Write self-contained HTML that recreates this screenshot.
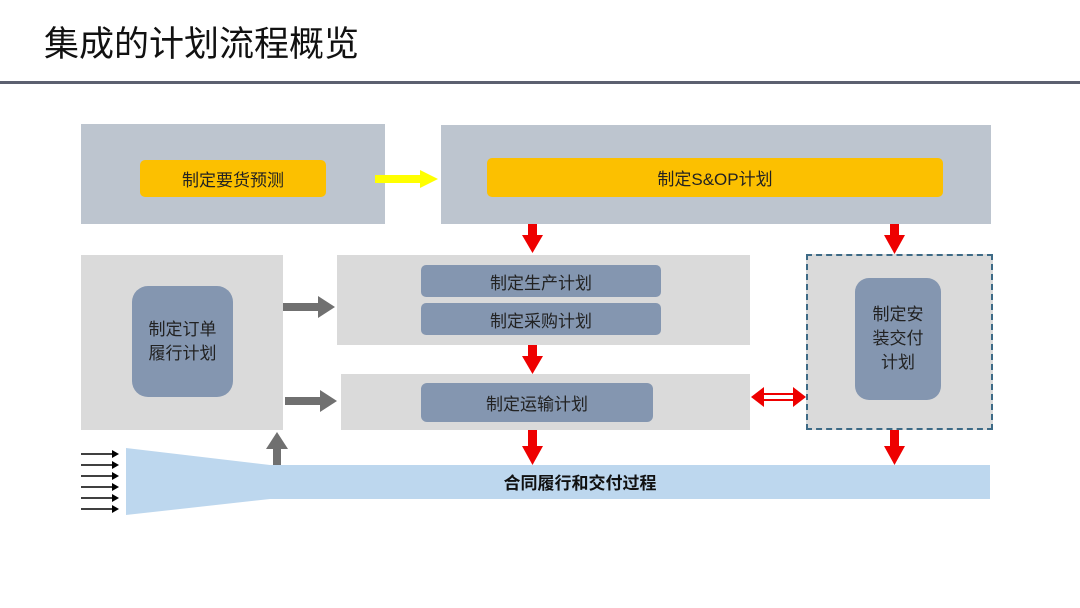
<!DOCTYPE html>
<html><head><meta charset="utf-8"><style>
body{margin:0;width:1080px;height:608px;background:#fff;position:relative;overflow:hidden;font-family:"Liberation Sans","Noto Sans CJK SC",sans-serif}
.a{position:absolute;box-sizing:border-box}
.t{display:flex;align-items:center;justify-content:center;text-align:center;color:#222}
</style></head><body>
<div class="a" style="left:44px;top:22px;font-size:35px;color:#111;line-height:46px">集成的计划流程概览</div>
<div class="a" style="left:0;top:81px;width:1080px;height:3px;background:#5c6070"></div>

<div class="a" style="left:81px;top:124px;width:304px;height:100px;background:#bdc5cf"></div>
<div class="a t" style="left:140px;top:160px;width:186px;height:37px;background:#fcc000;border-radius:5px;font-size:17px">制定要货预测</div>
<div class="a" style="left:441px;top:125px;width:550px;height:99px;background:#bdc5cf"></div>
<div class="a t" style="left:487px;top:158px;width:456px;height:39px;background:#fcc000;border-radius:5px;font-size:17px">制定S&amp;OP计划</div>

<div class="a" style="left:81px;top:255px;width:202px;height:175px;background:#dadada"></div>
<div class="a t" style="left:132px;top:286px;width:101px;height:111px;background:#8496b0;border-radius:16px;font-size:17px;line-height:24px">制定订单<br>履行计划</div>

<div class="a" style="left:337px;top:255px;width:413px;height:90px;background:#dadada"></div>
<div class="a t" style="left:421px;top:265px;width:240px;height:32px;background:#8496b0;border-radius:5px;font-size:17px">制定生产计划</div>
<div class="a t" style="left:421px;top:303px;width:240px;height:32px;background:#8496b0;border-radius:5px;font-size:17px">制定采购计划</div>

<div class="a" style="left:341px;top:374px;width:409px;height:56px;background:#dadada"></div>
<div class="a t" style="left:421px;top:383px;width:232px;height:39px;background:#8496b0;border-radius:6px;font-size:17px">制定运输计划</div>

<div class="a" style="left:806px;top:254px;width:187px;height:176px;background:#dadada;border:2px dashed #3d6a86"></div>
<div class="a t" style="left:855px;top:278px;width:86px;height:122px;background:#8496b0;border-radius:14px;font-size:17px;line-height:24px">制定安<br>装交付<br>计划</div>

<svg class="a" style="left:0;top:0" width="1080" height="608">
<polygon points="126,448 270,465 990,465 990,499 270,499 126,515" fill="#bdd7ee"/>
<text x="580" y="489" font-size="17" font-weight="bold" text-anchor="middle" fill="#111" font-family="Liberation Sans, Noto Sans CJK SC, sans-serif">合同履行和交付过程</text>
<g stroke="#000" stroke-width="1.5">
<line x1="81" y1="454" x2="112" y2="454"/><line x1="81" y1="465" x2="112" y2="465"/><line x1="81" y1="476" x2="112" y2="476"/><line x1="81" y1="487" x2="112" y2="487"/><line x1="81" y1="498" x2="112" y2="498"/><line x1="81" y1="509" x2="112" y2="509"/>
</g>
<g fill="#000">
<polygon points="112,450 119,454 112,458"/><polygon points="112,461 119,465 112,469"/><polygon points="112,472 119,476 112,480"/><polygon points="112,483 119,487 112,491"/><polygon points="112,494 119,498 112,502"/><polygon points="112,505 119,509 112,513"/>
</g>
<polygon points="375,175 420,175 420,170 438,179 420,188 420,183 375,183" fill="#ffff00"/>
<g fill="#707070">
<polygon points="283,303 318,303 318,296 335,307 318,318 318,311 283,311"/>
<polygon points="285,397 320,397 320,390 337,401 320,412 320,405 285,405"/>
<polygon points="273,465 273,449 266,449 277,432 288,449 281,449 281,465"/>
</g>
<g fill="#ee0000">
<polygon points="528,224 537,224 537,235 543,235 532.5,253 522,235 528,235"/>
<polygon points="528,345 537,345 537,356 543,356 532.5,374 522,356 528,356"/>
<polygon points="528,430 537,430 537,446 543,446 532.5,465 522,446 528,446"/>
<polygon points="890,224 899,224 899,235 905,235 894.5,254 884,235 890,235"/>
<polygon points="890,430 899,430 899,446 905,446 894.5,465 884,446 890,446"/>
<polygon points="751,397 764,387 764,407"/>
<polygon points="806,397 793,387 793,407"/>
</g>
<g stroke="#ee0000" stroke-width="2"><line x1="762" y1="394" x2="795" y2="394"/><line x1="762" y1="400" x2="795" y2="400"/></g>
</svg>
</body></html>
